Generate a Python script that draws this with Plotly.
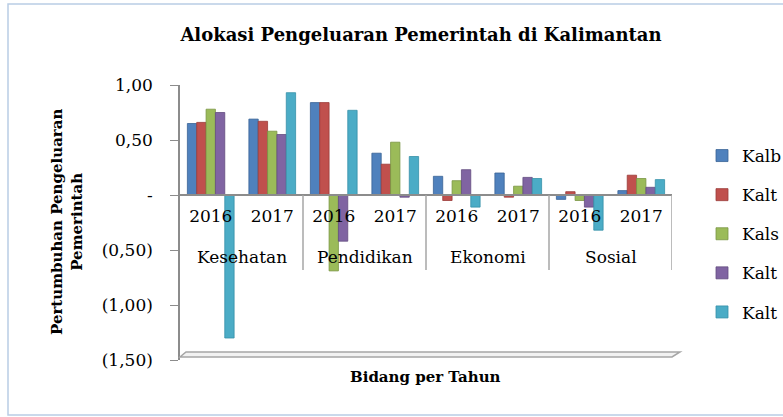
import plotly.graph_objects as go

categories = ["Kesehatan", "Kesehatan", "Pendidikan", "Pendidikan",
              "Ekonomi", "Ekonomi", "Sosial", "Sosial"]
years = ["2016", "2017", "2016", "2017", "2016", "2017", "2016", "2017"]

# legend labels as visible in the reference (cut off at the right edge)
series_names = ["Kalb", "Kalt", "Kals", "Kalt", "Kalt"]
kalbar = [0.65, 0.69, 0.84, 0.38, 0.17, 0.20, -0.04, 0.04]
kalteng = [0.66, 0.67, 0.84, 0.28, -0.05, -0.02, 0.03, 0.18]
kalsel = [0.78, 0.58, -0.69, 0.48, 0.13, 0.08, -0.05, 0.15]
kaltim = [0.75, 0.55, -0.42, -0.02, 0.23, 0.16, -0.11, 0.07]
kaltara = [-1.30, 0.93, 0.77, 0.35, -0.11, 0.15, -0.32, 0.14]
series_values = [kalbar, kalteng, kalsel, kaltim, kaltara]

tick_vals = [-1.5, -1.0, -0.5, 0, 0.5, 1.0]
tick_text = ["(1,50)", "(1,00)", "(0,50)", "-", "0,50", "1,00"]

colors = ["#4F81BD", "#C0504D", "#9BBB59", "#8064A2", "#4BACC6"]
edge = ["#3A6396", "#9A3B39", "#7A9644", "#634D80", "#3690A8"]

FONT = "DejaVu Serif"

pos = list(range(len(years)))

fig = go.Figure()
for i, (name, vals, c, e) in enumerate(zip(series_names, series_values, colors, edge)):
    fig.add_trace(go.Bar(
        x=pos, y=vals, name=name, legendgroup=f"g{i}",
        marker=dict(color=c, line=dict(color=e, width=0.8)),
    ))

W, H = 783, 417
L, R, T, B = 180, 111, 85, 57
pw = W - L - R
ph = H - T - B
Y0, Y1 = -1.5, 1.0


def px_x(p):
    return (p - L) / pw


def px_y(p):
    return (H - B - p) / ph


def px_to_data_y(p):
    return Y1 - (p - T) / ph * (Y1 - Y0)


# category group labels and dividers, derived from the category list
groups = []
for i, c in enumerate(categories):
    if not groups or groups[-1][0] != c:
        groups.append([c, i, i])
    else:
        groups[-1][2] = i

annotations = []
shapes = []
for c, a, b in groups:
    annotations.append(dict(text=c, xref="x", yref="y", x=(a + b) / 2,
                            y=px_to_data_y(257), showarrow=False,
                            xanchor="center", yanchor="middle",
                            font=dict(family=FONT, size=17, color="#000000")))
bounds = [g[2] + 0.5 for g in groups]
for bx in bounds:
    shapes.append(dict(type="line", xref="x", yref="y", x0=bx, x1=bx,
                       y0=0, y1=px_to_data_y(270),
                       line=dict(color="#A6A6A6", width=1.5)))

annotations += [
    dict(text="<b>Pertumbuhan Pengeluaran<br>Pemerintah</b>",
         xref="paper", yref="paper", x=px_x(67), y=px_y(222),
         xanchor="center", yanchor="middle",
         textangle=-90, showarrow=False,
         font=dict(family=FONT, size=15, color="#000000")),
    dict(text="<b>Bidang per Tahun</b>",
         xref="paper", yref="paper", x=px_x(425), y=px_y(377),
         showarrow=False, xanchor="center", yanchor="middle",
         font=dict(family=FONT, size=15, color="#000000")),
]
shapes += [
    dict(type="path", xref="paper", yref="paper",
         path=f"M {px_x(180)},{px_y(357)} L {px_x(672)},{px_y(357)} "
              f"L {px_x(680)},{px_y(352)} L {px_x(186)},{px_y(352)} Z",
         line=dict(color="#A6A6A6", width=1.5), fillcolor="#F2F2F2"),
    dict(type="rect", xref="paper", yref="paper",
         x0=px_x(8), x1=px_x(830), y0=px_y(415), y1=px_y(4),
         line=dict(color="#B9CDE5", width=1.5), layer="below"),
]

fig.update_layout(
    width=W, height=H,
    margin=dict(l=L, r=R, t=T, b=B, autoexpand=False),
    paper_bgcolor="white", plot_bgcolor="white",
    font=dict(family=FONT, size=17, color="#000000"),
    barmode="group", bargap=0.24, bargroupgap=0,
    title=dict(text="<b>Alokasi Pengeluaran Pemerintah di Kalimantan</b>",
               x=421 / W, xanchor="center", y=1 - 35 / H, yanchor="middle",
               font=dict(family=FONT, size=18, color="#000000")),
    xaxis=dict(range=[-0.5, len(years) - 0.5], tickvals=pos, ticktext=years,
               anchor="free", position=(0 - Y0) / (Y1 - Y0),
               showline=True, linecolor="#8C8C8C", linewidth=1.5,
               ticks="", showgrid=False, zeroline=False, ticklabelstandoff=6,
               tickfont=dict(family=FONT, size=17, color="#000000")),
    yaxis=dict(range=[Y0, Y1], tickvals=tick_vals, ticktext=tick_text,
               showline=True, linecolor="#8C8C8C", linewidth=1.5,
               ticks="outside", ticklen=8, tickcolor="#8C8C8C",
               ticklabelstandoff=14, showgrid=False, zeroline=False,
               tickfont=dict(family=FONT, size=17, color="#000000")),
    showlegend=True,
    legend=dict(x=px_x(702), xanchor="left", y=px_y(138), yanchor="top",
                traceorder="grouped", tracegroupgap=14,
                font=dict(family=FONT, size=17, color="#000000"),
                bgcolor="rgba(0,0,0,0)"),
    annotations=annotations,
    shapes=shapes,
)

fig.write_html("out.html",
               config={"displayModeBar": False},
               post_script="document.body.style.margin='0';"
                           "document.body.style.overflow='hidden';")
